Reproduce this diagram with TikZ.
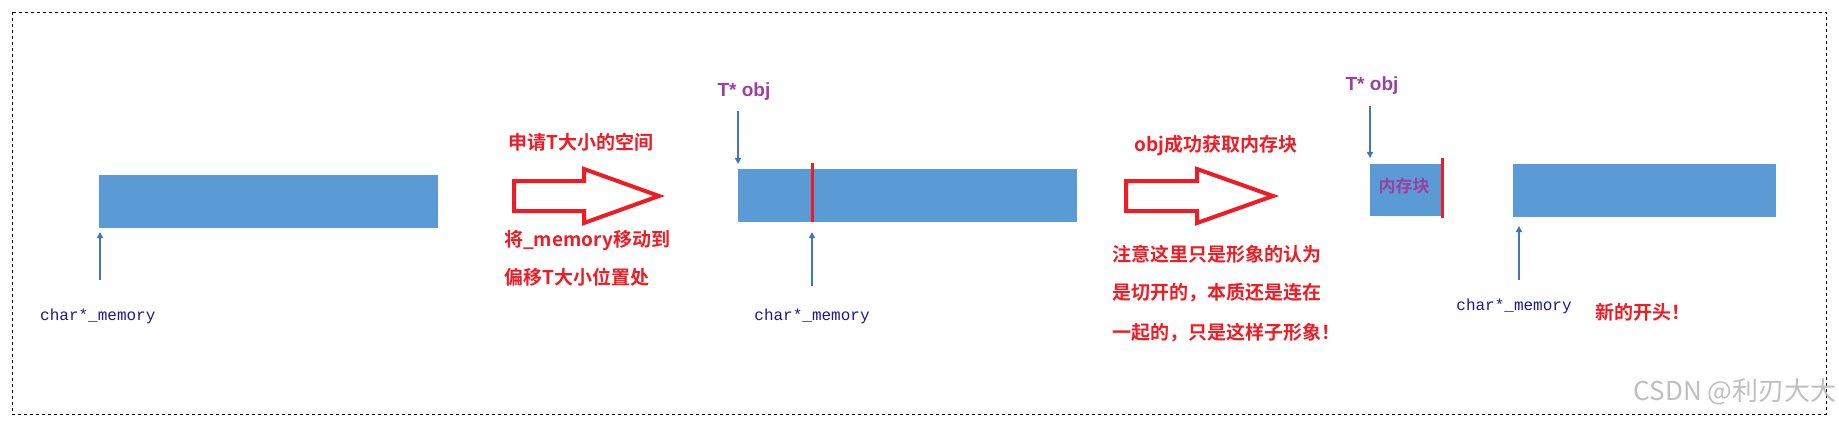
\documentclass[tikz,border=0pt]{standalone}
\usetikzlibrary{arrows.meta}
\usepackage{fontspec}
\setmainfont{Liberation Sans}
\newfontfamily\cjk{Noto Sans CJK SC}[BoldFont={Noto Sans CJK SC Bold}]
\newfontfamily\monof{Liberation Mono}
\definecolor{boxblue}{HTML}{5B9BD5}
\definecolor{arrblue}{HTML}{4472C4}
\definecolor{myred}{HTML}{EE1C25}
\definecolor{mypurple}{HTML}{9A40A0}
\definecolor{navy}{HTML}{1A1A8C}
\begin{document}
\begin{tikzpicture}[x=1pt,y=-1pt,
  mem/.style={fill=boxblue,draw=none},
  cut/.style={draw=myred,line width=3pt},
  ptr/.style={draw=arrblue,line width=2.2pt,-{Triangle[length=6pt,width=6pt]}},
  redtxt/.style={text=myred,font=\cjk\bfseries\fontsize{19}{22}\selectfont,inner sep=0pt},
  ptrtxt/.style={text=mypurple,font=\bfseries\fontsize{19}{21}\selectfont,inner sep=0pt},
  memtxt/.style={text=navy,font=\monof\fontsize{16}{18}\selectfont,inner sep=0pt},
  bigarrow/.style={draw=myred,line width=4pt,fill=white}]
\useasboundingbox (0,0) rectangle (1839,425);
\draw[dashed,line width=0.6pt] (12,12) rectangle (1826,414);
% stage 1
\path[mem] (99,175) rectangle (438,228);
\coordinate (b1) at (100,232); \coordinate (b1e) at (100,280);
\draw[ptr] (b1e) -- (b1);
\node[memtxt,anchor=west] (m1) at (40,316) {char*\_memory};
% arrow 1
\node[redtxt] (t1) at (581,142) {申请T大小的空间};
\draw[bigarrow] (514,181) -- (584,181) -- (584,169) -- (659,196) -- (584,223) -- (584,211) -- (514,211) -- cycle;
\node[redtxt,anchor=west] (t2) at (504,241) {将\_memory移动到};
\node[redtxt,anchor=west] (t3) at (504,277) {偏移T大小位置处};
% stage 2
\path[mem] (738,169) rectangle (1077,222);
\coordinate (c1) at (812,163); \coordinate (c2) at (812,222);
\draw[cut] (c1) -- (c2);
\node[ptrtxt] (o1) at (744,92) {T* obj};
\coordinate (d1) at (738,111); \coordinate (d2) at (738,164);
\draw[ptr] (d1) -- (d2);
\coordinate (u1) at (812,286); \coordinate (u2) at (812,232);
\draw[ptr] (u1) -- (u2);
\node[memtxt] (m2) at (812,316) {char*\_memory};
% arrow 2
\node[redtxt] (t4) at (1216,146) {obj成功获取内存块};
\draw[bigarrow] (1126,181) -- (1197,181) -- (1197,169) -- (1273,196) -- (1197,223) -- (1197,211) -- (1126,211) -- cycle;
\node[redtxt,anchor=west] (t5) at (1112,254) {注意这里只是形象的认为};
\node[redtxt,anchor=west] (t6) at (1112,293) {是切开的，本质还是连在};
\node[redtxt,anchor=west] (t7) at (1112,333) {一起的，只是这样子形象！};
% stage 3
\path[mem] (1370,164) rectangle (1442,216);
\node[text=mypurple,font=\cjk\bfseries\fontsize{17}{19}\selectfont,inner sep=0pt] (blk) at (1404,186) {内存块};
\coordinate (c3) at (1442,158); \coordinate (c4) at (1442,218);
\draw[cut] (c3) -- (c4);
\node[ptrtxt] (o2) at (1372,86) {T* obj};
\coordinate (d3) at (1370,106); \coordinate (d4) at (1370,158);
\draw[ptr] (d3) -- (d4);
\path[mem] (1513,164) rectangle (1776,217);
\coordinate (u3) at (1519,280); \coordinate (u4) at (1519,226);
\draw[ptr] (u3) -- (u4);
\node[memtxt] (m3) at (1514,306) {char*\_memory};
\node[redtxt] (t8) at (1643,312) {新的开头！};
\node[text=black!25,font=\cjk\fontsize{26}{28}\selectfont,inner sep=0pt] (wm) at (1735,392) {CSDN @利刃大大};
\end{tikzpicture}
\end{document}
